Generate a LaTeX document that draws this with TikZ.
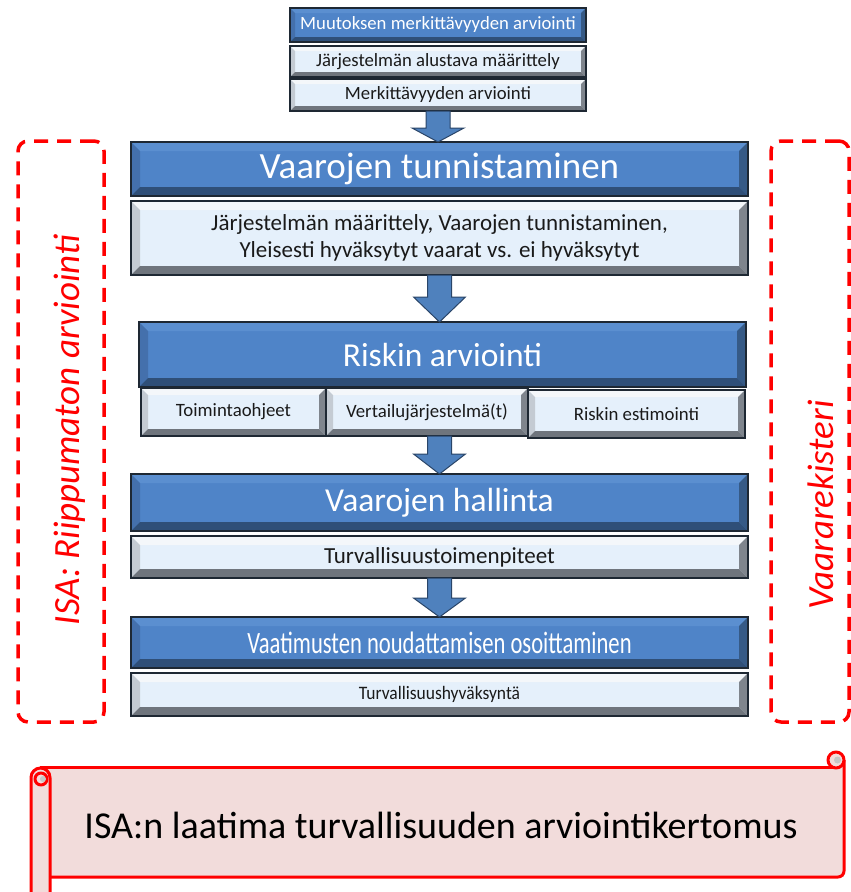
\documentclass[tikz,border=0pt]{standalone}
\usepackage{fontspec}
\setmainfont{Carlito}
\usepackage{graphicx}
\usetikzlibrary{calc}

\definecolor{bluefill}{HTML}{4F84C8}
\definecolor{bluetop}{HTML}{5B8FD0}
\definecolor{blueleft}{HTML}{4470AC}
\definecolor{blueright}{HTML}{365A86}
\definecolor{bluebottom}{HTML}{2F4F78}
\definecolor{boxline}{HTML}{1E2833}
\definecolor{lightfill}{HTML}{E5F0FB}
\definecolor{lighttop}{HTML}{F4F7FA}
\definecolor{lightleft}{HTML}{C4CBD3}
\definecolor{lightright}{HTML}{7F858D}
\definecolor{lightbottom}{HTML}{6F757D}
\definecolor{arrowfill}{HTML}{4F81BD}
\definecolor{arrowline}{HTML}{2A4568}
\definecolor{scrollpink}{HTML}{F2DCDB}
\definecolor{darktext}{HTML}{1A1A1A}

% four bevel faces drawn inside a node: width, top, left, right, bottom colours
\newcommand\bevelfaces[5]{%
  \fill[#2] (path picture bounding box.north west) -- (path picture bounding box.north east)
    -- ([shift={(-#1,#1)}]path picture bounding box.north east)
    -- ([shift={(#1,#1)}]path picture bounding box.north west) -- cycle;
  \fill[#3] (path picture bounding box.north west) -- (path picture bounding box.south west)
    -- ([shift={(#1,-#1)}]path picture bounding box.south west)
    -- ([shift={(#1,#1)}]path picture bounding box.north west) -- cycle;
  \fill[#4] (path picture bounding box.north east) -- (path picture bounding box.south east)
    -- ([shift={(-#1,-#1)}]path picture bounding box.south east)
    -- ([shift={(-#1,#1)}]path picture bounding box.north east) -- cycle;
  \fill[#5] (path picture bounding box.south west) -- (path picture bounding box.south east)
    -- ([shift={(-#1,-#1)}]path picture bounding box.south east)
    -- ([shift={(#1,-#1)}]path picture bounding box.south west) -- cycle;
}

% block arrow between two points: start, end, head length (pt)
\newcommand\blockarrow[3]{%
  \path[flowarrow] let \p1=(#1), \p2=(#2) in
    (\x1-12pt,\y1) -- (\x1+12pt,\y1) -- (\x1+12pt,\y2+#3pt) -- (\x1+26pt,\y2+#3pt)
    -- (\x1,\y2) -- (\x1-26pt,\y2+#3pt) -- (\x1-12pt,\y2+#3pt) -- cycle;
}

\begin{document}
\begin{tikzpicture}[x=1pt,y=-1pt,
  bluebox/.style={draw=boxline, line width=1.3pt, fill=bluefill, text=white,
    inner sep=0pt, outer sep=0pt, anchor=north west, align=center,
    path picture={\bevelfaces{#1}{bluetop}{blueleft}{blueright}{bluebottom}}},
  lightbox/.style={draw=boxline, line width=1.3pt, fill=lightfill, text=darktext,
    inner sep=0pt, outer sep=0pt, anchor=north west, align=center,
    path picture={\bevelfaces{#1}{lighttop}{lightleft}{lightright}{lightbottom}}},
  flowarrow/.style={fill=arrowfill, draw=arrowline, line width=1pt, line join=miter},
  sideframe/.style={draw=red, line width=3.5pt, dash pattern=on 14pt off 9pt,
    rounded corners=10pt, inner sep=0pt, outer sep=0pt},
  sidetext/.style={text=red, font=\fontsize{37}{40}\selectfont\itshape, rotate=90, inner sep=0pt},
  scrollline/.style={draw=red, line width=3pt, line join=round},
]
\useasboundingbox[fill=white] (0,0) rectangle (851,892);

% change significance stage
\node[bluebox=5, minimum width=296pt, minimum height=34pt, font=\fontsize{18.7}{20}\selectfont]
  (b0) at (290,8) {Muutoksen merkittävyyden arviointi};
\node[lightbox=5, minimum width=296pt, minimum height=31pt, font=\fontsize{18.7}{20}\selectfont]
  (b1) at (290,46) {Järjestelmän alustava määrittely};
\node[lightbox=5, minimum width=296pt, minimum height=32pt, font=\fontsize{18.7}{20}\selectfont]
  (b2) at (290,79) {Merkittävyyden arviointi};

% hazard identification
\node[bluebox=9, minimum width=617pt, minimum height=54pt, font=\fontsize{37}{40}\selectfont]
  (h1) at (131,142) {Vaarojen tunnistaminen};
\node[lightbox=9, minimum width=617pt, minimum height=74pt, font=\fontsize{23}{27}\selectfont]
  (l1) at (131,201) {Järjestelmän määrittely, Vaarojen tunnistaminen,\\Yleisesti hyväksytyt vaarat vs. ei hyväksytyt};

% risk assessment
\node[bluebox=9, minimum width=607pt, minimum height=65pt, font=\fontsize{33.5}{36}\selectfont]
  (h2) at (139,322) {Riskin arviointi};
\node[lightbox=7, minimum width=185pt, minimum height=48pt, font=\fontsize{18.8}{20}\selectfont]
  (s1) at (141,388) {Toimintaohjeet};
\node[lightbox=7, minimum width=202pt, minimum height=48pt, font=\fontsize{18.8}{20}\selectfont]
  (s2) at (326,388) {Vertailujärjestelmä(t)};
\node[lightbox=7, minimum width=217pt, minimum height=48pt, font=\fontsize{18.8}{20}\selectfont]
  (s3) at (528,390) {Riskin estimointi};

% hazard control
\node[bluebox=9, minimum width=617pt, minimum height=57pt, font=\fontsize{33.5}{36}\selectfont]
  (h3) at (131,474) {Vaarojen hallinta};
\node[lightbox=9, minimum width=617pt, minimum height=42pt, font=\fontsize{23}{25}\selectfont]
  (l3) at (131,536) {Turvallisuustoimenpiteet};

% demonstration of compliance
\node[bluebox=9, minimum width=617pt, minimum height=51pt, font=\fontsize{31}{33}\selectfont]
  (h4) at (131,617) {\scalebox{0.73}[1]{Vaatimusten noudattamisen osoittaminen}};
\node[lightbox=9, minimum width=617pt, minimum height=43pt, font=\fontsize{19}{21}\selectfont]
  (l4) at (131,673) {\scalebox{0.92}[1]{Turvallisuushyväksyntä}};

% flow arrows
\blockarrow{b2.south}{h1.north}{14}
\blockarrow{l1.south}{h2.north}{25}
\blockarrow{s2.south -| h3.north}{h3.north}{20}
\blockarrow{l3.south}{h4.north}{19}

% side frames
\node[sideframe, minimum width=86pt, minimum height=581pt] (isaframe) at (61,431.5) {};
\node[sidetext] (isatext) at (69.5,430) {ISA: Riippumaton arviointi};
\node[sideframe, minimum width=78pt, minimum height=581pt] (regframe) at (810,431.5) {};
\node[sidetext] (regtext) at (821,505) {Vaararekisteri};

% report scroll
\fill[scrollpink] (45,767) rectangle (844,877);
\draw[scrollline] (40,767) -- (836,767);
\draw[scrollline, rounded corners=6pt] (50,877) -- (844,877) -- (844,760);
\draw[scrollline, fill=scrollpink] (836,760) circle[radius=8pt];
\fill[gray!45] (837.5,760) circle[radius=3.5pt];
\draw[scrollline, fill=scrollpink, rounded corners=9.5pt] (31,905) -- (31,768) -- (50,768) -- (50,905);
\draw[scrollline] (41,779) circle[radius=6pt];
\fill[gray!45] (43,779) circle[radius=3pt];
\node[font=\fontsize{38}{40}\selectfont, text=black, inner sep=0pt] (report) at (441,825)
  {ISA:n laatima turvallisuuden arviointikertomus};
\end{tikzpicture}
\end{document}
